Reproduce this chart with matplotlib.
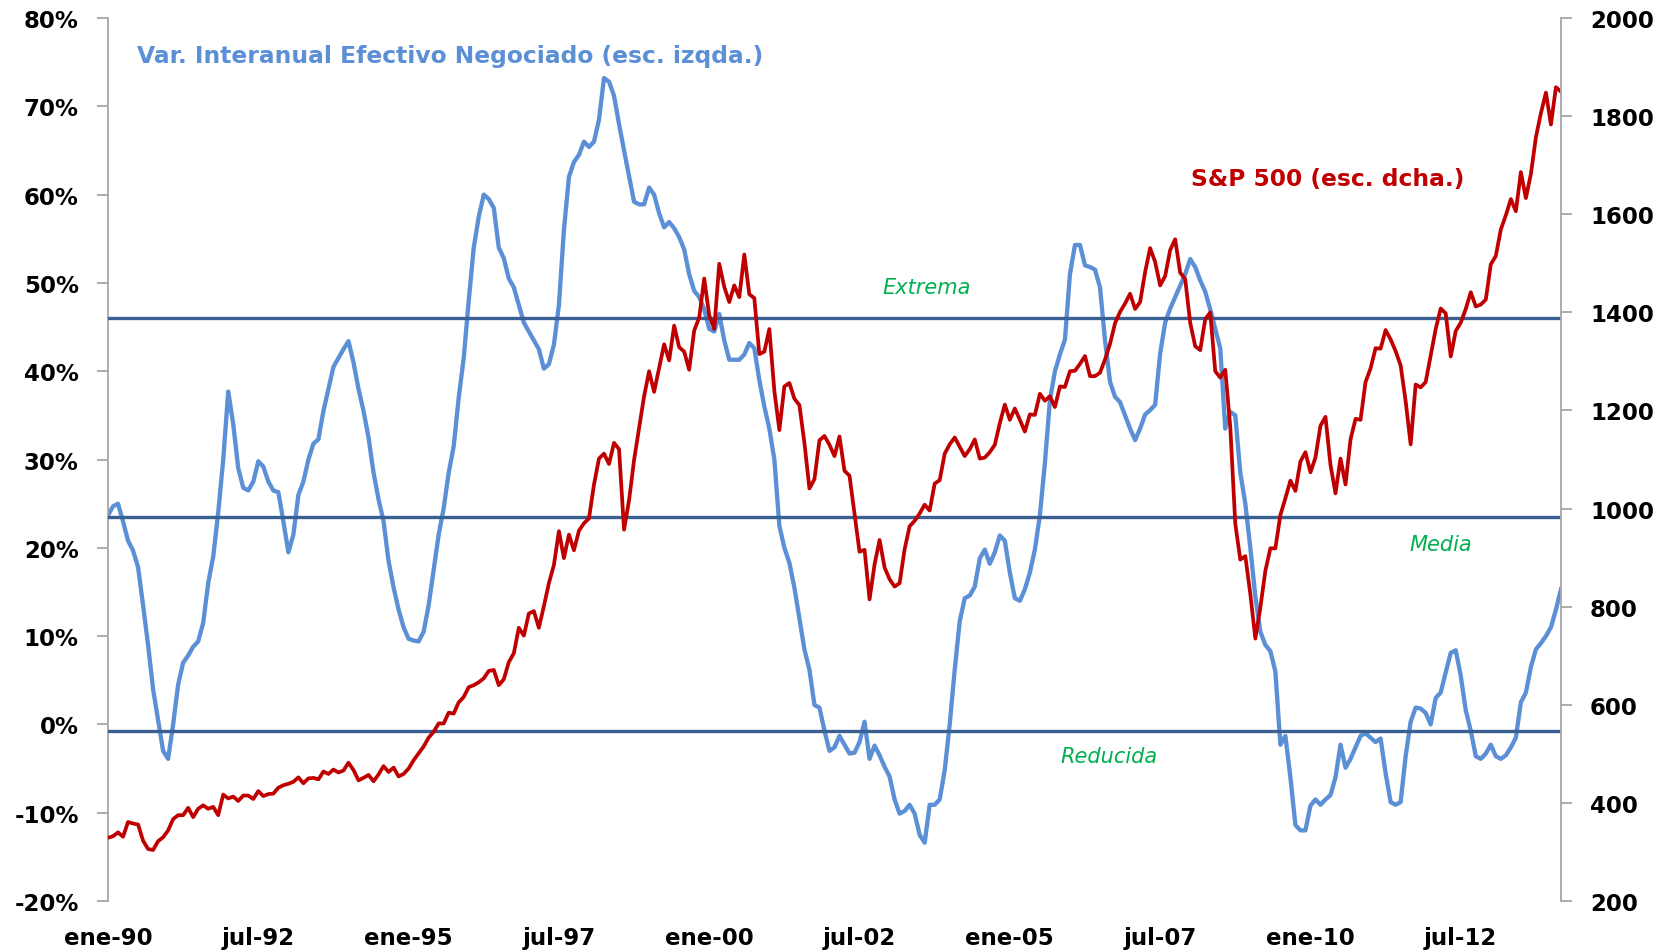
import matplotlib
matplotlib.use("Agg")
import matplotlib.pyplot as plt
import numpy as np
import pandas as pd

# monthly data, ene-1990 .. mar-2014
months = pd.date_range("1990-01-01", periods=291, freq="MS")

# Var. interanual efectivo negociado (%)
efectivo = [
    23.7, 24.7, 25.0, 23.0, 20.8, 19.7, 17.8, 13.5, 9.0, 4.0, 0.5, -3.0,
    -3.9, 0.0, 4.5, 7.0, 7.8, 8.8, 9.4, 11.5, 16.0, 19.0, 24.0, 30.0,
    37.7, 34.0, 29.0, 26.8, 26.5, 27.5, 29.8, 29.2, 27.5, 26.5, 26.3, 23.0,
    19.5, 21.5, 26.0, 27.5, 30.0, 31.8, 32.3, 35.5, 38.0, 40.5, 41.5, 42.5,
    43.4, 41.0, 38.0, 35.5, 32.5, 28.5, 25.5, 23.0, 18.5, 15.5, 13.0, 11.0,
    9.7, 9.5, 9.4, 10.5, 13.5, 17.5, 21.5, 24.5, 28.5, 31.5, 37.0, 41.5,
    48.0, 54.0, 57.5, 60.0, 59.5, 58.5, 54.0, 52.8, 50.5, 49.5, 47.5, 45.5,
    44.5, 43.5, 42.5, 40.3, 40.8, 43.0, 47.5, 56.0, 62.0, 63.7, 64.5, 66.0,
    65.4, 66.0, 68.5, 73.2, 72.8, 71.2, 68.0, 65.0, 62.1, 59.2, 58.9, 58.9,
    60.8, 60.0, 57.9, 56.3, 56.9, 56.2, 55.2, 53.8, 51.0, 49.1, 48.4, 47.0,
    44.8, 44.5, 46.5, 43.5, 41.3, 41.3, 41.3, 41.9, 43.2, 42.6, 39.0, 36.0,
    33.5, 30.0, 22.5, 20.0, 18.3, 15.5, 12.0, 8.5, 6.2, 2.2, 1.9, -0.7,
    -3.0, -2.6, -1.3, -2.3, -3.3, -3.2, -2.0, 0.3, -3.9, -2.4, -3.5, -4.8,
    -5.9, -8.5, -10.1, -9.8, -9.1, -10.1, -12.5, -13.4, -9.1, -9.1, -8.5, -5.2,
    0.0, 6.2, 11.7, 14.3, 14.6, 15.6, 18.8, 19.8, 18.2, 19.5, 21.4, 20.8,
    17.2, 14.3, 14.0, 15.3, 17.2, 19.8, 23.7, 29.6, 36.7, 40.0, 41.9, 43.6,
    51.0, 54.3, 54.3, 52.0, 51.8, 51.5, 49.5, 43.5, 38.8, 37.1, 36.5, 35.0,
    33.5, 32.2, 33.5, 35.1, 35.6, 36.2, 42.0, 45.5, 47.1, 48.4, 49.7, 51.0,
    52.7, 51.8, 50.3, 49.0, 47.0, 44.8, 42.6, 33.5, 35.4, 35.0, 28.5, 25.0,
    20.0, 14.5, 10.5, 9.0, 8.3, 6.0, -2.3, -1.3, -6.0, -11.4, -12.0, -12.0,
    -9.2, -8.5, -9.1, -8.5, -8.0, -6.0, -2.3, -4.9, -3.9, -2.6, -1.3, -1.0,
    -1.5, -2.0, -1.6, -5.5, -8.8, -9.1, -8.8, -3.6, 0.3, 1.9, 1.8, 1.3,
    0.0, 3.0, 3.6, 5.9, 8.1, 8.4, 5.5, 1.6, -0.7, -3.6, -3.9, -3.3,
    -2.3, -3.6, -3.9, -3.5, -2.6, -1.5, 2.5, 3.6, 6.5, 8.5, 9.2, 10.0,
    11.0, 13.0, 15.3,
]

# S&P 500, monthly
sp500 = [
    329, 332, 340, 331, 361, 358, 356, 323, 306, 304, 322, 330,
    344, 367, 375, 375, 390, 371, 388, 395, 388, 392, 375, 417,
    409, 413, 404, 415, 415, 408, 424, 414, 418, 419, 431, 436,
    439, 443, 452, 440, 450, 451, 448, 464, 459, 468, 462, 466,
    482, 467, 446, 451, 457, 444, 458, 475, 463, 472, 454, 459,
    470, 487, 501, 515, 533, 545, 562, 562, 584, 582, 605, 616,
    636, 640, 646, 654, 669, 671, 640, 652, 687, 705, 757, 741,
    786, 791, 757, 801, 848, 885, 954, 899, 947, 915, 955, 970,
    980, 1049, 1102, 1112, 1091, 1134, 1121, 957, 1017, 1099, 1164, 1229,
    1280, 1238, 1286, 1335, 1302, 1373, 1329, 1320, 1283, 1363, 1389, 1469,
    1394, 1366, 1499, 1452, 1421, 1455, 1431, 1518, 1437, 1429, 1315, 1320,
    1366, 1240, 1160, 1249, 1256, 1224, 1211, 1134, 1041, 1060, 1139, 1148,
    1130, 1107, 1147, 1077, 1067, 990, 912, 916, 815, 886, 936, 880,
    856, 841, 848, 917, 964, 975, 990, 1008, 996, 1051, 1058, 1112,
    1131, 1145, 1126, 1107, 1121, 1141, 1102, 1104, 1115, 1130, 1174, 1212,
    1181, 1204, 1181, 1157, 1192, 1191, 1234, 1220, 1229, 1207, 1249, 1248,
    1280, 1281, 1295, 1311, 1270, 1270, 1277, 1304, 1336, 1378, 1401, 1418,
    1438, 1407, 1421, 1482, 1531, 1503, 1455, 1474, 1527, 1549, 1481, 1468,
    1379, 1331, 1323, 1386, 1400, 1280, 1267, 1283, 1166, 969, 896, 903,
    826, 735, 798, 873, 919, 919, 987, 1021, 1057, 1036, 1096, 1115,
    1074, 1104, 1169, 1187, 1089, 1031, 1102, 1049, 1141, 1183, 1181, 1258,
    1286, 1327, 1326, 1364, 1345, 1321, 1292, 1219, 1131, 1253, 1247, 1258,
    1312, 1366, 1408, 1398, 1310, 1362, 1379, 1407, 1441, 1412, 1416, 1426,
    1498, 1515, 1569, 1598, 1631, 1606, 1686, 1633, 1682, 1757, 1806, 1848,
    1783, 1859, 1850,
]

# reference levels for the traded-cash series (%)
nivel_nombres = ["Extrema", "Media", "Reducida"]
nivel_valores = [46.0, 23.5, -0.7]

tick_labels = ["ene-90", "jul-92", "ene-95", "jul-97", "ene-00",
               "jul-02", "ene-05", "jul-07", "ene-10", "jul-12"]

blue = "#5B8FD6"
red = "#C00000"
green = "#00B050"
navy = "#3A5F92"
gray = "#A6A6A6"

x = np.arange(len(months))

fig = plt.figure(figsize=(16.77, 9.53), dpi=100)
ax = fig.add_axes([0.0644, 0.0535, 0.8664, 0.9265])
ax2 = ax.twinx()

ax.plot(x, efectivo, color=blue, lw=3.1, solid_joinstyle="round", zorder=2)
for v in nivel_valores:
    ax.axhline(v, color=navy, lw=2.4, zorder=3)

ax2.plot(x, sp500, color=red, lw=2.7, solid_joinstyle="round")

ax.set_xlim(0, len(months) - 1)
ax.set_ylim(-20, 80)
ax.set_yticks(np.arange(-20, 81, 10))
ax.set_yticklabels([f"{v}%" for v in range(-20, 81, 10)])
ax2.set_ylim(200, 2000)
ax2.set_yticks(np.arange(200, 2001, 200))

ax.set_xticks(x[::30])
ax.set_xticklabels(tick_labels)

for a in (ax, ax2):
    a.spines["top"].set_visible(False)
    a.spines["bottom"].set_visible(False)
    a.spines["left"].set_color(gray)
    a.spines["right"].set_color(gray)
    a.spines["left"].set_linewidth(1.3)
    a.spines["right"].set_linewidth(1.3)
ax.spines["right"].set_visible(False)
ax2.spines["left"].set_visible(False)

ax.tick_params(axis="y", length=8, width=1.3, color=gray, pad=13)
ax2.tick_params(axis="y", length=8, width=1.3, color=gray, pad=13)
ax.tick_params(axis="x", length=0, pad=18)
for t in ax.get_yticklabels() + ax.get_xticklabels() + ax2.get_yticklabels():
    t.set_fontfamily("DejaVu Sans")
    t.set_fontweight("bold")
    t.set_fontsize(16.5)

ax.text(5.8, 75.8, "Var. Interanual Efectivo Negociado (esc. izqda.)",
        color=blue, fontsize=16.8, fontweight="bold", va="center", ha="left")
ax.text(270.8, 61.8, "S&P 500 (esc. dcha.)", color=red, fontsize=16.8,
        fontweight="bold", va="center", ha="right")

label_pos = [(163.4, 49.5), (266, 20.4), (199.8, -3.6)]
for name, (px, py) in zip(nivel_nombres, label_pos):
    ax.text(px, py, name, color=green, fontsize=15, style="italic",
            ha="center", va="center")

fig.savefig("out.png", dpi=100)
